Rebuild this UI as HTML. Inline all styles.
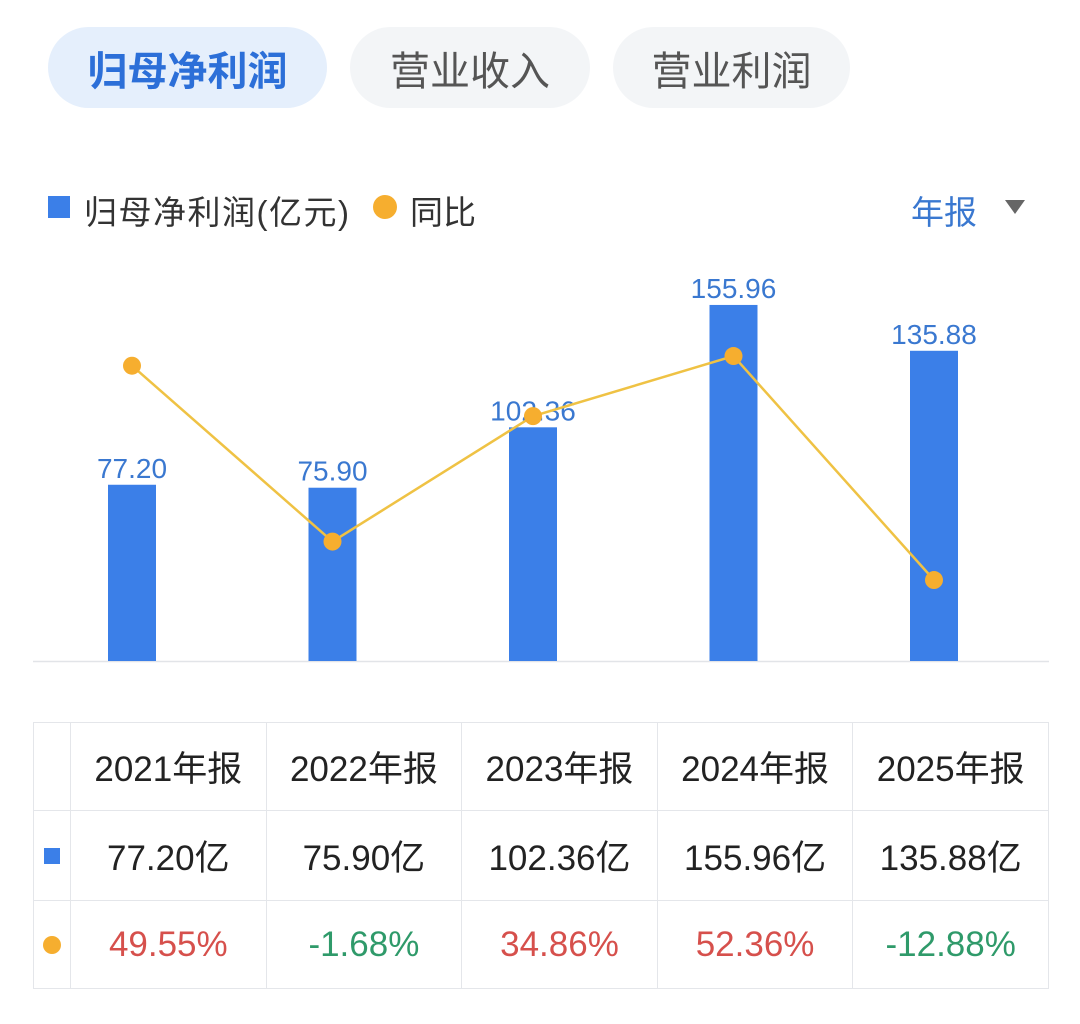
<!DOCTYPE html>
<html><head><meta charset="utf-8">
<style>
body{margin:0;width:1080px;height:1024px;background:#fff;font-family:"Liberation Sans","Noto Sans CJK SC",sans-serif;position:relative;overflow:hidden}
.pill{position:absolute;top:27px;height:81px;border-radius:41px;display:flex;align-items:center;justify-content:center;font-size:40px}
.abs{position:absolute}
table{position:absolute;left:33px;top:722px;border-collapse:collapse;width:1016px}
td{border:1px solid #e4e6ea;text-align:center;font-size:35px;color:#222;padding:0}
.red{color:#d6504c}.green{color:#2f9a6a}
</style></head><body>
<div class="pill" style="left:48px;width:279px;background:#e5effc;color:#2c6fd8;font-weight:bold">归母净利润</div>
<div class="pill" style="left:350px;width:240px;background:#f3f5f7;color:#555">营业收入</div>
<div class="pill" style="left:613px;width:237px;background:#f3f5f7;color:#555">营业利润</div>

<div class="abs" style="left:48px;top:196px;width:22px;height:22px;background:#3b7fe8"></div>
<div class="abs" style="left:84px;top:186px;font-size:33px;color:#333;letter-spacing:1.5px">归母净利润(亿元)</div>
<div class="abs" style="left:373px;top:195px;width:24px;height:24px;border-radius:50%;background:#f6ae2f"></div>
<div class="abs" style="left:410px;top:186px;font-size:33px;color:#333">同比</div>
<div class="abs" style="left:911px;top:186px;font-size:33px;color:#3a78d0">年报</div>
<div class="abs" style="left:1005px;top:200px;width:0;height:0;border-left:10px solid transparent;border-right:10px solid transparent;border-top:14px solid #666"></div>

<svg class="abs" style="left:0;top:0" width="1080" height="700" id="chart"></svg>

<table>
<tr style="height:88px"><td style="width:36px"></td><td>2021年报</td><td>2022年报</td><td>2023年报</td><td>2024年报</td><td>2025年报</td></tr>
<tr style="height:90px"><td><div style="width:16px;height:16px;background:#3b7fe8;margin:auto"></div></td><td>77.20亿</td><td>75.90亿</td><td>102.36亿</td><td>155.96亿</td><td>135.88亿</td></tr>
<tr style="height:88px"><td><div style="width:18px;height:18px;border-radius:50%;background:#f6ae2f;margin:auto"></div></td><td class="red">49.55%</td><td class="green">-1.68%</td><td class="red">34.86%</td><td class="red">52.36%</td><td class="green">-12.88%</td></tr>
</table>

<script>
const categories=["2021年报","2022年报","2023年报","2024年报","2025年报"];
const profit=[77.20,75.90,102.36,155.96,135.88];
const yoy=[49.55,-1.68,34.86,52.36,-12.88];
const svg=document.getElementById('chart');
const NS='http://www.w3.org/2000/svg';
const x=i=>132+i*200.5;
const yBar=v=>661-v*2.283;
const yLine=v=>535.8-v*3.433;
function mk(t,a){const e=document.createElementNS(NS,t);for(const k in a)e.setAttribute(k,a[k]);svg.appendChild(e);return e;}
const ax=mk('line',{x1:33,x2:1049,y1:661.5,y2:661.5,stroke:'#e2e4e8','stroke-width':1.5});


profit.forEach((v,i)=>{
 const r=mk('rect',{x:x(i)-24,y:yBar(v),width:48,height:661-yBar(v),fill:'#3b7fe8'});
 
 
 const t=mk('text',{x:x(i),y:yBar(v)-7,'text-anchor':'middle','font-size':28,fill:'#3a78d0','font-family':'Liberation Sans, sans-serif'});
 t.textContent=v.toFixed(2);
 
 
});
const pl=mk('polyline',{points:yoy.map((v,i)=>x(i)+','+yLine(v)).join(' '),fill:'none',stroke:'#efc244','stroke-width':2.5});


yoy.forEach((v,i)=>{
 const c=mk('circle',{cx:x(i),cy:yLine(v),r:9,fill:'#f6ae2f'});
 
 
});
</script>
</body></html>
